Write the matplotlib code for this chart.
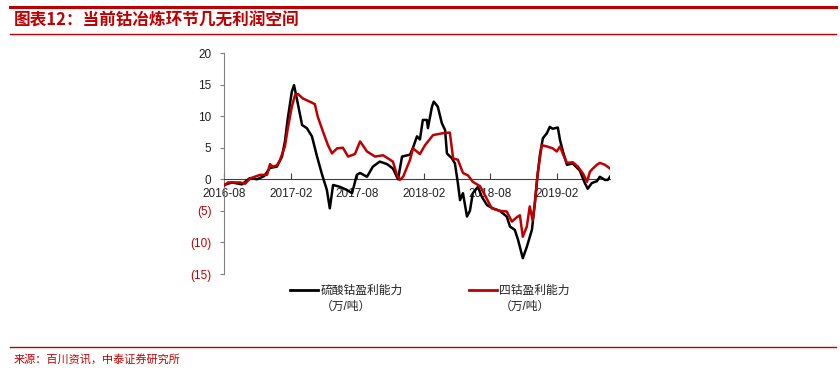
import numpy as np
import pandas as pd
import matplotlib
matplotlib.use("Agg")
import matplotlib.pyplot as plt
import matplotlib.dates as mdates
from matplotlib.lines import Line2D
from matplotlib.legend_handler import HandlerLine2D

plt.rcParams['font.family'] = ['Liberation Sans', 'Noto Sans CJK SC', 'DejaVu Sans']

# 硫酸钴盈利能力（万/吨）
dates_black = ["2016-08-01", "2016-08-23", "2016-09-19", "2016-10-11", "2016-10-30", "2016-11-19",
               "2016-12-05", "2016-12-24", "2017-01-07", "2017-01-15", "2017-01-23", "2017-02-03",
               "2017-02-09", "2017-02-20", "2017-03-03", "2017-03-16", "2017-03-30", "2017-04-13",
               "2017-04-26", "2017-05-10", "2017-05-18", "2017-05-27", "2017-06-15", "2017-07-04",
               "2017-07-18", "2017-07-31", "2017-08-09", "2017-08-28", "2017-09-13", "2017-10-02",
               "2017-10-22", "2017-11-07", "2017-11-21", "2017-12-02", "2017-12-24", "2018-01-01",
               "2018-01-12", "2018-01-20", "2018-01-28", "2018-02-08", "2018-02-11", "2018-02-22",
               "2018-02-27", "2018-03-10", "2018-03-21", "2018-03-30", "2018-04-04", "2018-04-18",
               "2018-04-26", "2018-05-04", "2018-05-10", "2018-05-18", "2018-05-29", "2018-06-06",
               "2018-06-14", "2018-06-28", "2018-07-09", "2018-07-23", "2018-08-08", "2018-08-27",
               "2018-09-15", "2018-09-24", "2018-10-07", "2018-10-16", "2018-10-29", "2018-11-09",
               "2018-11-23", "2018-12-01", "2018-12-07", "2018-12-15", "2018-12-23", "2019-01-03",
               "2019-01-11", "2019-01-19", "2019-02-02", "2019-02-08", "2019-02-16", "2019-02-27",
               "2019-03-15", "2019-04-03", "2019-04-17", "2019-04-25", "2019-05-06", "2019-05-20",
               "2019-05-28", "2019-06-11", "2019-06-19", "2019-06-25"]
vals_black = [-0.9, -0.5, -0.8, 0.2, 0.0, 0.5,
              1.8, 2.0, 3.6, 6.0, 9.7, 13.9,
              14.9, 11.8, 8.6, 8.1, 6.8, 3.6,
              0.9, -1.7, -4.6, -0.9, -1.2, -1.7,
              -2.2, 0.7, 1.0, 0.4, 2.0, 2.8,
              2.4, 1.7, 0.0, 3.6, 3.9, 5.0,
              6.8, 6.3, 9.4, 9.4, 8.1, 11.5,
              12.3, 11.5, 8.9, 7.8, 4.1, 3.3,
              2.5, -0.6, -3.3, -2.2, -5.9, -5.0,
              -2.2, -1.2, -2.8, -4.1, -4.6, -5.0,
              -5.9, -7.5, -8.0, -9.6, -12.5, -10.7,
              -8.0, -3.8, -0.1, 3.9, 6.5, 7.3,
              8.3, 8.0, 8.2, 6.2, 4.4, 2.3,
              2.5, 1.4, -0.6, -1.5, -0.6, -0.3,
              0.4, -0.1, -0.1, 0.4]

# 四钴盈利能力（万/吨）
dates_red = ["2016-08-01", "2016-08-12", "2016-09-14", "2016-09-28", "2016-10-11", "2016-10-19",
             "2016-11-08", "2016-11-27", "2016-12-05", "2016-12-13", "2016-12-24", "2017-01-01",
             "2017-01-15", "2017-01-23", "2017-02-03", "2017-02-12", "2017-02-20", "2017-03-05",
             "2017-03-24", "2017-04-07", "2017-04-15", "2017-04-29", "2017-05-13", "2017-05-24",
             "2017-06-07", "2017-06-23", "2017-07-07", "2017-07-26", "2017-08-09", "2017-08-28",
             "2017-09-19", "2017-10-11", "2017-10-30", "2017-11-07", "2017-11-18", "2017-11-26",
             "2017-12-05", "2017-12-24", "2018-01-01", "2018-01-20", "2018-02-03", "2018-02-25",
             "2018-03-24", "2018-04-12", "2018-04-21", "2018-05-04", "2018-05-18", "2018-06-01",
             "2018-06-14", "2018-07-04", "2018-07-17", "2018-08-05", "2018-08-27", "2018-09-15",
             "2018-09-29", "2018-10-13", "2018-10-21", "2018-10-29", "2018-11-09", "2018-11-17",
             "2018-11-25", "2018-12-01", "2018-12-09", "2018-12-20", "2019-01-03", "2019-01-19",
             "2019-01-30", "2019-02-08", "2019-02-16", "2019-02-27", "2019-03-15", "2019-03-29",
             "2019-04-12", "2019-04-23", "2019-05-01", "2019-05-09", "2019-05-20", "2019-05-28",
             "2019-06-11", "2019-06-25"]
vals_red = [-1.0, -0.5, -0.5, -0.7, 0.1, 0.3,
            0.7, 0.7, 2.4, 2.0, 2.2, 3.0,
            5.2, 8.1, 11.5, 13.4, 13.5, 12.8,
            12.3, 11.9, 9.9, 7.6, 5.4, 4.1,
            4.9, 5.0, 3.6, 4.0, 6.0, 4.4,
            3.6, 3.8, 3.1, 2.8, 0.7, -0.1,
            0.4, 3.1, 4.9, 4.0, 5.4, 7.0,
            7.3, 7.4, 3.3, 3.1, 1.0, 0.6,
            -0.4, -1.1, -2.5, -4.6, -5.0, -5.1,
            -6.7, -6.0, -5.7, -9.1, -7.5, -4.3,
            -6.5, -3.8, 1.0, 5.4, 5.2, 4.9,
            4.4, 5.2, 4.0, 2.6, 2.7, 2.0,
            0.9, -0.4, 1.2, 1.7, 2.3, 2.6,
            2.3, 1.7]

xtick_dates = ["2016-08-01", "2017-02-01", "2017-08-01", "2018-02-01", "2018-08-01", "2019-02-01"]
yticks = [20, 15, 10, 5, 0, -5, -10, -15]
ytick_labels = ["20", "15", "10", "5", "0", "(5)", "(10)", "(15)"]
legend_labels = ["硫酸钴盈利能力\n（万/吨）", "四钴盈利能力\n（万/吨）"]

RED = '#C00000'
LINESP = 1.5


class TopLineHandler(HandlerLine2D):
    # put the legend line beside the first text row, not the middle
    def create_artists(self, legend, orig_handle, xdescent, ydescent,
                       width, height, fontsize, trans):
        arts = super().create_artists(legend, orig_handle, xdescent, ydescent,
                                      width, height, fontsize, trans)
        for a in arts:
            a.set_ydata(np.asarray(a.get_ydata()) + 0.5 * LINESP * fontsize)
        return arts


fig = plt.figure(figsize=(8.4, 3.75), dpi=100)
ax = fig.add_axes([224 / 840, 1 - 274 / 375, (610 - 224) / 840, (274 - 53) / 375])

ax.plot(pd.to_datetime(dates_black), vals_black, color='black', lw=1.8, zorder=3)
ax.plot(pd.to_datetime(dates_red), vals_red, color=RED, lw=1.8, zorder=4)

ax.set_xlim(pd.Timestamp("2016-08-01"), pd.Timestamp("2019-06-25"))
ax.set_ylim(-15, 20)

for s in ['top', 'right']:
    ax.spines[s].set_visible(False)
ax.spines['bottom'].set_position(('data', 0))
ax.spines['bottom'].set_color('#404040')
ax.spines['left'].set_color('#808080')

ax.set_xticks(pd.to_datetime(xtick_dates))
ax.xaxis.set_major_formatter(mdates.DateFormatter('%Y-%m'))
ax.tick_params(axis='x', direction='in', length=4, pad=6, labelsize=8.5, color='#404040')
ax.set_yticks(yticks)
ax.set_yticklabels(ytick_labels)
ax.tick_params(axis='y', direction='out', length=3, pad=6, labelsize=8.5, color='#808080')
for lab, v in zip(ax.get_yticklabels(), yticks):
    lab.set_color(RED if v < 0 else '#222222')
for lab in ax.get_xticklabels():
    lab.set_color('#222222')

handles = [Line2D([], [], color='black', lw=2), Line2D([], [], color=RED, lw=2)]
leg = fig.legend(handles, legend_labels,
                 loc='upper left', bbox_to_anchor=(279 / 840, 1 - 274 / 375), ncol=2,
                 frameon=False, fontsize=8.5, handlelength=2.4, handletextpad=0.2,
                 columnspacing=5.6, labelcolor='#222222',
                 handler_map={Line2D: TopLineHandler()})
for t in leg.get_texts():
    t.set_linespacing(LINESP)

# header and footer
fig.add_artist(Line2D([10 / 840, 836 / 840], [1 - 6.5 / 375] * 2, color=RED, lw=2.2))
fig.add_artist(Line2D([10 / 840, 836 / 840], [1 - 34 / 375] * 2, color=RED, lw=1.0))
fig.add_artist(Line2D([10 / 840, 836 / 840], [1 - 347 / 375] * 2, color=RED, lw=1.0))
fig.text(14 / 840, 1 - 20 / 375, "图表12：当前钴冶炼环节几无利润空间", color=RED,
         fontsize=12, fontweight='bold', style='italic', va='center', ha='left',
         family=['Noto Sans CJK SC', 'DejaVu Sans'])
fig.text(14 / 840, 1 - 360 / 375, "来源：百川资讯，中泰证券研究所", color=RED,
         fontsize=8, va='center', ha='left', family=['Noto Sans CJK SC', 'DejaVu Sans'])

fig.savefig("out.png", dpi=100)
